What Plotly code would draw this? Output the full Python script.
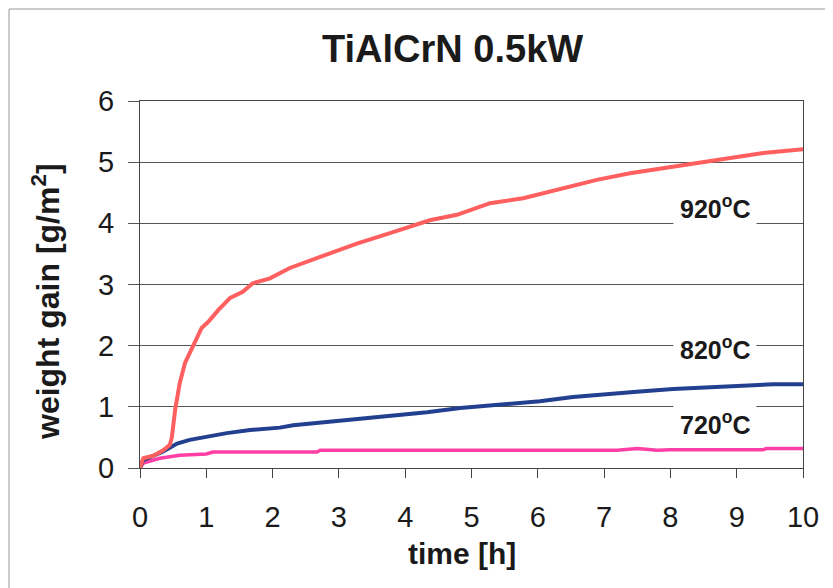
import plotly.graph_objects as go

# ---- data ----
t_920 = [0, 0.05, 0.2, 0.35, 0.45, 0.48, 0.53, 0.6, 0.68, 0.8, 0.93, 1.03, 1.18, 1.36, 1.55, 1.7,
         1.96, 2.26, 2.71, 3.27, 3.77, 4.37, 4.78, 5.28, 5.78, 6.38, 6.89, 7.39, 7.89, 8.4, 8.9, 9.4, 10.0]
w_920 = [0, 0.16, 0.2, 0.29, 0.38, 0.5, 0.95, 1.39, 1.72, 1.98, 2.29, 2.39, 2.58, 2.78, 2.88, 3.02,
         3.10, 3.27, 3.45, 3.67, 3.84, 4.05, 4.14, 4.33, 4.41, 4.58, 4.71, 4.82, 4.90, 4.98, 5.07, 5.15, 5.21]

t_820 = [0, 0.05, 0.35, 0.56, 0.75, 1.0, 1.31, 1.66, 2.11, 2.31, 2.82, 3.32, 3.82, 4.33, 4.83,
         5.33, 5.83, 6.03, 6.53, 7.04, 7.54, 8.04, 8.55, 9.05, 9.55, 10.0]
w_820 = [0, 0.13, 0.27, 0.40, 0.46, 0.51, 0.57, 0.62, 0.66, 0.70, 0.75, 0.80, 0.85, 0.91, 0.98,
         1.03, 1.08, 1.09, 1.16, 1.21, 1.25, 1.29, 1.32, 1.34, 1.37, 1.37]

t_720 = [0, 0.05, 0.3, 0.6, 1.0, 1.1, 2.67, 2.72, 7.2, 7.5, 7.8, 8.0, 9.4, 9.45, 10.0]
w_720 = [0, 0.08, 0.16, 0.21, 0.23, 0.26, 0.26, 0.29, 0.29, 0.32, 0.29, 0.30, 0.30, 0.32, 0.32]

series_labels = ["920<sup>o</sup>C", "820<sup>o</sup>C", "720<sup>o</sup>C"]
label_x = [8.67, 8.67, 8.67]
label_y = [4.27, 1.96, 0.74]

x_ticks = list(range(0, 11))
y_ticks = list(range(0, 7))

title_text = "TiAlCrN 0.5kW"
x_title = "time [h]"
y_title = "weight gain [g/m<sup>2</sup>]"

FONT = "Arial, Liberation Sans, sans-serif"

# ---- layout geometry (pixels, page coordinates; page body has an 8px margin) ----
OFF = 8
W, H = 833 - OFF, 588 - OFF
L, R, T, B = 140 - OFF, 803 - OFF, 101 - OFF, 468 - OFF

fig = go.Figure()
fig.add_trace(go.Scatter(x=t_720, y=w_720, mode="lines", line=dict(color="#FF3FA6", width=3.5),
                         showlegend=False, hoverinfo="skip"))
fig.add_trace(go.Scatter(x=t_820, y=w_820, mode="lines", line=dict(color="#22408F", width=4),
                         showlegend=False, hoverinfo="skip"))
fig.add_trace(go.Scatter(x=t_920, y=w_920, mode="lines", line=dict(color="#FF5F5F", width=4),
                         showlegend=False, hoverinfo="skip"))

pw = R - L
ph = B - T

def px_x(p):
    return (p - OFF - L) / pw

def px_y(p):
    return (B - (p - OFF)) / ph

annotations = []
for txt, lx, ly in zip(series_labels, label_x, label_y):
    annotations.append(dict(x=lx, y=ly, xref="x", yref="y", text="<b>" + txt + "</b>", showarrow=False,
                            font=dict(family=FONT, size=25, color="#1a1a1a"),
                            bgcolor="white", borderpad=6, xanchor="center", yanchor="middle"))

annotations.append(dict(x=px_x(452), y=px_y(49), xref="paper", yref="paper",
                        text="<b>" + title_text + "</b>", showarrow=False,
                        font=dict(family=FONT, size=38, color="#1a1a1a"),
                        xanchor="center", yanchor="middle"))
annotations.append(dict(x=px_x(462), y=px_y(553), xref="paper", yref="paper",
                        text="<b>" + x_title + "</b>", showarrow=False,
                        font=dict(family=FONT, size=30, color="#1a1a1a"),
                        xanchor="center", yanchor="middle"))
annotations.append(dict(x=px_x(46), y=px_y(302), xref="paper", yref="paper",
                        text="<b>" + y_title + "</b>", showarrow=False, textangle=-90,
                        font=dict(family=FONT, size=32, color="#1a1a1a"),
                        xanchor="center", yanchor="middle"))

shapes = [
    dict(type="line", xref="paper", yref="paper", x0=px_x(9), x1=px_x(9), y0=px_y(9), y1=px_y(600),
         line=dict(color="#999999", width=1)),
    dict(type="line", xref="paper", yref="paper", x0=px_x(9), x1=px_x(840), y0=px_y(9), y1=px_y(9),
         line=dict(color="#999999", width=1)),
]

fig.update_layout(
    width=W, height=H,
    margin=dict(l=L, r=W - R, t=T, b=H - B, pad=0),
    paper_bgcolor="white", plot_bgcolor="white",
    annotations=annotations, shapes=shapes,
    xaxis=dict(range=[0, 10], tickvals=x_ticks, ticktext=[str(v) for v in x_ticks],
               showgrid=False, zeroline=False, showline=True, linecolor="#444444", linewidth=1.2,
               mirror=True, ticks="outside", ticklen=9, tickcolor="#444444", tickwidth=1.2,
               ticklabelstandoff=14,
               tickfont=dict(family=FONT, size=29, color="#1a1a1a")),
    yaxis=dict(range=[0, 6], tickvals=y_ticks, ticktext=[str(v) for v in y_ticks],
               showgrid=True, gridcolor="#555555", gridwidth=1.2, zeroline=False,
               showline=True, linecolor="#444444", linewidth=1.2, mirror=True,
               ticks="outside", ticklen=11, tickcolor="#555555", tickwidth=1.2,
               ticklabelstandoff=8,
               tickfont=dict(family=FONT, size=29, color="#1a1a1a")),
)

fig.write_html("out.html")
